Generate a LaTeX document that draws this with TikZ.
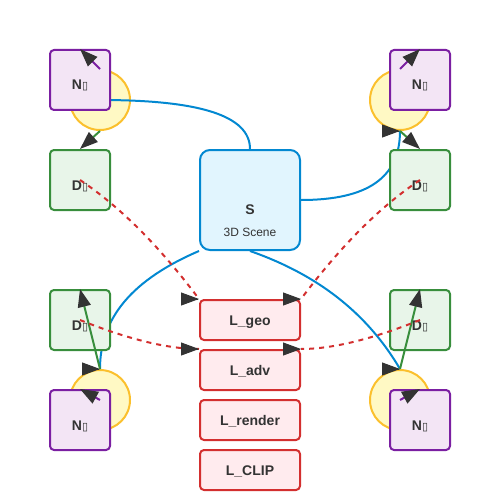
\documentclass[tikz,border=0pt]{standalone}
\usepackage{fontspec}
\setmainfont{Liberation Sans}
\newfontfamily\boxfont{DejaVu Sans}
\usetikzlibrary{arrows.meta,backgrounds}

\definecolor{nodeline}{HTML}{7B1FA2}
\definecolor{nodefill}{HTML}{F3E5F5}
\definecolor{detline}{HTML}{388E3C}
\definecolor{detfill}{HTML}{E8F5E9}
\definecolor{camline}{HTML}{FBC02D}
\definecolor{camfill}{HTML}{FFF9C4}
\definecolor{sceneline}{HTML}{0288D1}
\definecolor{scenefill}{HTML}{E1F5FE}
\definecolor{lossline}{HTML}{D32F2F}
\definecolor{lossfill}{HTML}{FFEBEE}
\definecolor{tipc}{HTML}{333333}

\newcommand{\tofu}{{\boxfont\fontsize{11}{12}\selectfont ▯}}

\tikzset{
  nbox/.style={draw=nodeline, fill=nodefill, line width=2pt, rounded corners=4pt,
    minimum width=60pt, minimum height=60pt, inner sep=0pt,
    font=\bfseries\fontsize{14}{16}\selectfont, text=tipc, text height=20pt, text depth=0pt},
  dbox/.style={nbox, draw=detline, fill=detfill},
  cam/.style={circle, draw=camline, fill=camfill, line width=2pt, minimum size=60pt, inner sep=0pt},
  sbox/.style={draw=sceneline, fill=scenefill, line width=2pt, rounded corners=10pt,
    minimum width=100pt, minimum height=100pt, inner sep=0pt,
    font=\bfseries\fontsize{14}{16}\selectfont, text=tipc, text height=28pt, text depth=0pt},
  lbox/.style={draw=lossline, fill=lossfill, line width=2pt, rounded corners=4pt,
    minimum width=100pt, minimum height=40pt, inner sep=0pt,
    font=\bfseries\fontsize{14}{16}\selectfont, text=tipc, text height=10pt, text depth=0pt},
  tip/.style={-{Triangle[length=18pt,width=13pt,color=tipc]}},
  tipR/.style={-{Triangle[length=18pt,width=13pt]}, draw=tipc, line width=1pt},
  blueline/.style={draw=sceneline, line width=2pt},
  redline/.style={draw=lossline, line width=2pt, dash pattern=on 5pt off 5pt},
  greenline/.style={tip, draw=detline, line width=2pt},
  purpleline/.style={tip, draw=nodeline, line width=2pt}
}

\begin{document}
\begin{tikzpicture}[x=1pt, y=-1pt]
    \useasboundingbox (0,0) rectangle (500,500);

    % cameras behind everything
    \begin{pgfonlayer}{background}
        \node[cam] (C1) at (100,100) {};
        \node[cam] (C2) at (400,100) {};
        \node[cam] (C3) at (100,400) {};
        \node[cam] (C4) at (400,400) {};
    \end{pgfonlayer}

    \node[nbox] (N1) at (80,80) {N\tofu};
    \node[nbox] (N2) at (420,80) {N\tofu};
    \node[nbox] (N3) at (80,420) {N\tofu};
    \node[nbox] (N4) at (420,420) {N\tofu};

    \node[dbox] (D1) at (80,180) {D\tofu};
    \node[dbox] (D2) at (420,180) {D\tofu};
    \node[dbox] (D3) at (80,320) {D\tofu};
    \node[dbox] (D4) at (420,320) {D\tofu};

    \node[sbox, label={[anchor=base, yshift=15pt, font=\fontsize{12}{14}\selectfont, text=tipc]south:3D Scene}] (S) at (250,200) {S};

    \node[lbox] (Lgeo) at (250,320) {L\_geo};
    \node[lbox] (Ladv) at (250,370) {L\_adv};
    \node[lbox] (Lren) at (250,420) {L\_render};
    \node[lbox] (Lclip) at (250,470) {L\_CLIP};

    % scene to cameras
    \begin{pgfonlayer}{background}
        \draw[blueline] (S.north) .. controls +(0,-33.3) and +(100,0) .. (C1.center);
        \draw[blueline] (S.east) .. controls +(66.7,0) and +(0,46.7) .. (C2.south);
        \draw[blueline] (S.south west) .. controls +(-66.7,28.7) and +(0,-51.3) .. (C3.north);
        \draw[blueline] (S.south) .. controls +(66.7,23.3) and +(-33.3,-56.7) .. (C4.north);
        \draw[tipR] (C1.center) ++(-1,0) -- (C1.center);
        \draw[tipR] (C2.south) ++(-1,0) -- (C2.south);
        \draw[tipR] (C3.north) ++(-1,0) -- (C3.north);
        \draw[tipR] (C4.north) ++(-1,0) -- (C4.north);
    \end{pgfonlayer}

    % cameras to nodes and detectors
    \draw[purpleline] (C1.north) -- (N1.north);
    \draw[purpleline] (C2.north) -- (N2.north);
    \draw[purpleline] (C3.center) -- (N3.north);
    \draw[purpleline] (C4.center) -- (N4.north);

    \draw[greenline] (C1.south) -- (D1.north);
    \draw[greenline] (C2.south) -- (D2.north);
    \draw[greenline] (C3.north) -- (D3.north);
    \draw[greenline] (C4.north) -- (D4.north);

    % detectors to losses
    \draw[redline] (D1.center) .. controls +(40,26.7) and +(-40,-53.3) .. (Lgeo.north west);
    \draw[redline] (D2.center) .. controls +(-40,26.7) and +(40,-53.3) .. (Lgeo.north east);
    \draw[redline] (D3.center) .. controls +(50,20) and +(-30,0) .. (Ladv.north west);
    \draw[redline] (D4.center) .. controls +(-50,20) and +(30,0) .. (Ladv.north east);
    \draw[tipR] (Lgeo.north west) ++(-1,0) -- (Lgeo.north west);
    \draw[tipR] (Lgeo.north east) ++(-1,0) -- (Lgeo.north east);
    \draw[tipR] (Ladv.north west) ++(-1,0) -- (Ladv.north west);
    \draw[tipR] (Ladv.north east) ++(-1,0) -- (Ladv.north east);
\end{tikzpicture}
\end{document}
